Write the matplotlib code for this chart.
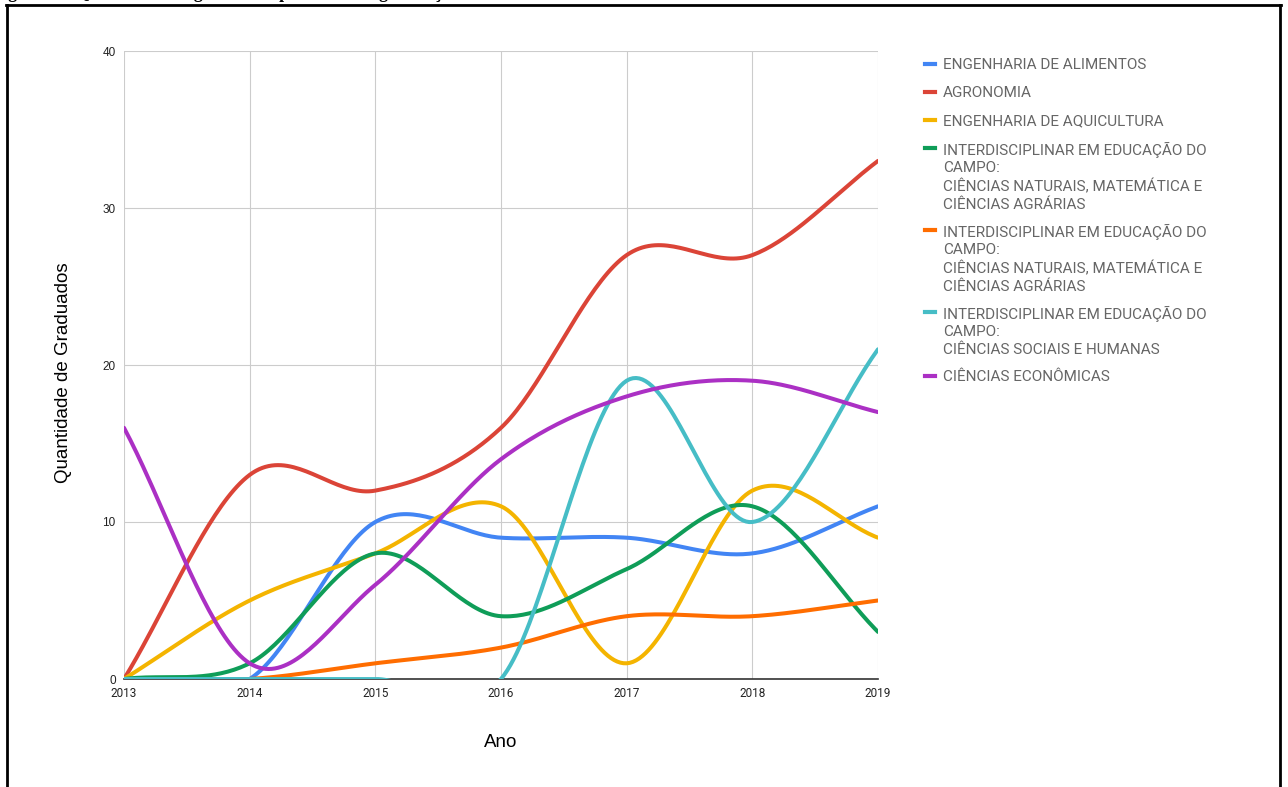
import matplotlib
matplotlib.use('Agg')
import matplotlib.pyplot as plt
import numpy as np
from matplotlib.lines import Line2D

anos = [2013, 2014, 2015, 2016, 2017, 2018, 2019]

cursos = [
    'ENGENHARIA DE ALIMENTOS',
    'AGRONOMIA',
    'ENGENHARIA DE AQUICULTURA',
    'INTERDISCIPLINAR EM EDUCAÇÃO DO\nCAMPO:\nCIÊNCIAS NATURAIS, MATEMÁTICA E\nCIÊNCIAS AGRÁRIAS',
    'INTERDISCIPLINAR EM EDUCAÇÃO DO\nCAMPO:\nCIÊNCIAS NATURAIS, MATEMÁTICA E\nCIÊNCIAS AGRÁRIAS',
    'INTERDISCIPLINAR EM EDUCAÇÃO DO\nCAMPO:\nCIÊNCIAS SOCIAIS E HUMANAS',
    'CIÊNCIAS ECONÔMICAS',
]

alimentos = [0, 0, 10, 9, 9, 8, 11]
agronomia = [0, 13, 12, 16, 27, 27, 33]
aquicultura = [0, 5, 8, 11, 1, 12, 9]
educ_campo_nat = [0, 1, 8, 4, 7, 11, 3]
educ_campo_nat2 = [0, 0, 1, 2, 4, 4, 5]
educ_campo_soc = [0, 0, 0, 0, 19, 10, 21]
economicas = [16, 1, 6, 14, 18, 19, 17]

series = [alimentos, agronomia, aquicultura, educ_campo_nat,
          educ_campo_nat2, educ_campo_soc, economicas]
cores = ['#4285F4', '#DB4437', '#F4B400', '#0F9D58',
         '#FF6D00', '#46BDC6', '#AB30C4']


def suavizar(x, y, n=40):
    # curva do tipo Catmull-Rom, como a linha suavizada do Google Sheets
    x = np.asarray(x, float)
    y = np.asarray(y, float)
    m = np.zeros_like(y)
    m[1:-1] = (y[2:] - y[:-2]) / 2
    m[0] = y[1] - y[0]
    m[-1] = y[-1] - y[-2]
    xs, ys = [], []
    for i in range(len(x) - 1):
        t = np.linspace(0, 1, n, endpoint=(i == len(x) - 2))
        h00 = 2 * t**3 - 3 * t**2 + 1
        h10 = t**3 - 2 * t**2 + t
        h01 = -2 * t**3 + 3 * t**2
        h11 = t**3 - t**2
        xs.append(x[i] + t * (x[i + 1] - x[i]))
        ys.append(h00 * y[i] + h10 * m[i] + h01 * y[i + 1] + h11 * m[i + 1])
    return np.concatenate(xs), np.concatenate(ys)


fig = plt.figure(figsize=(12.88, 7.87), dpi=100)
ax = fig.add_axes([124 / 1288, 1 - 679 / 787, (878 - 124) / 1288, (679 - 51) / 787])

for valores, cor in zip(series, cores):
    xs, ys = suavizar(anos, valores)
    ax.plot(xs, ys, color=cor, lw=2.9, solid_capstyle='round', zorder=3)

ax.set_xlim(2013, 2019)
ax.set_ylim(0, 40)
ax.set_xticks(anos)
ax.set_yticks([0, 10, 20, 30, 40])
ax.grid(color='#cccccc', lw=0.8)
ax.set_axisbelow(True)
for lado in ['top', 'right', 'left']:
    ax.spines[lado].set_visible(False)
ax.spines['bottom'].set_color('#333333')
ax.spines['bottom'].set_linewidth(1.2)
ax.spines['bottom'].set_zorder(2.5)
ax.tick_params(length=0, labelsize=8.5, colors='#222222')
ax.tick_params(axis='x', pad=6)
ax.tick_params(axis='y', pad=6)
for lbl in ax.get_xticklabels():
    lbl.set_family('Roboto')
for lbl in ax.get_yticklabels():
    lbl.set_family('Liberation Sans')
ax.set_xlabel('Ano', fontsize=13.5, family='Liberation Sans', labelpad=24)
ax.set_ylabel('Quantidade de Graduados', fontsize=13.5, family='Liberation Sans',
              labelpad=22)
ax.yaxis.label.set_y(0.487)

# legenda manual
y_px = 64
for nome, cor in zip(cursos, cores):
    fy = 1 - y_px / 787
    fig.add_artist(Line2D([925 / 1288, 935 / 1288], [fy, fy], color=cor,
                          lw=3, transform=fig.transFigure))
    fig.text(943 / 1288, fy + 6 / 787, nome, va='top', ha='left',
             fontsize=11, family='Roboto', color='#666666', linespacing=1.3)
    y_px += 28 + 18 * nome.count('\n')

# moldura e título cortado
for xs_, ys_ in [([6, 1281], [5, 5]), ([7, 7], [5, 800]), ([1280, 1280], [5, 800])]:
    fig.add_artist(Line2D([v / 1288 for v in xs_], [1 - v / 787 for v in ys_],
                          color='black', lw=2, transform=fig.transFigure))
fig.text(-8 / 1288, 1 + 7 / 787, 'Figura 1 – Quantidade de graduados por curso de graduação',
         va='center', ha='left', fontsize=13, weight='bold', family='Liberation Serif')

fig.savefig('out.png', dpi=100)
